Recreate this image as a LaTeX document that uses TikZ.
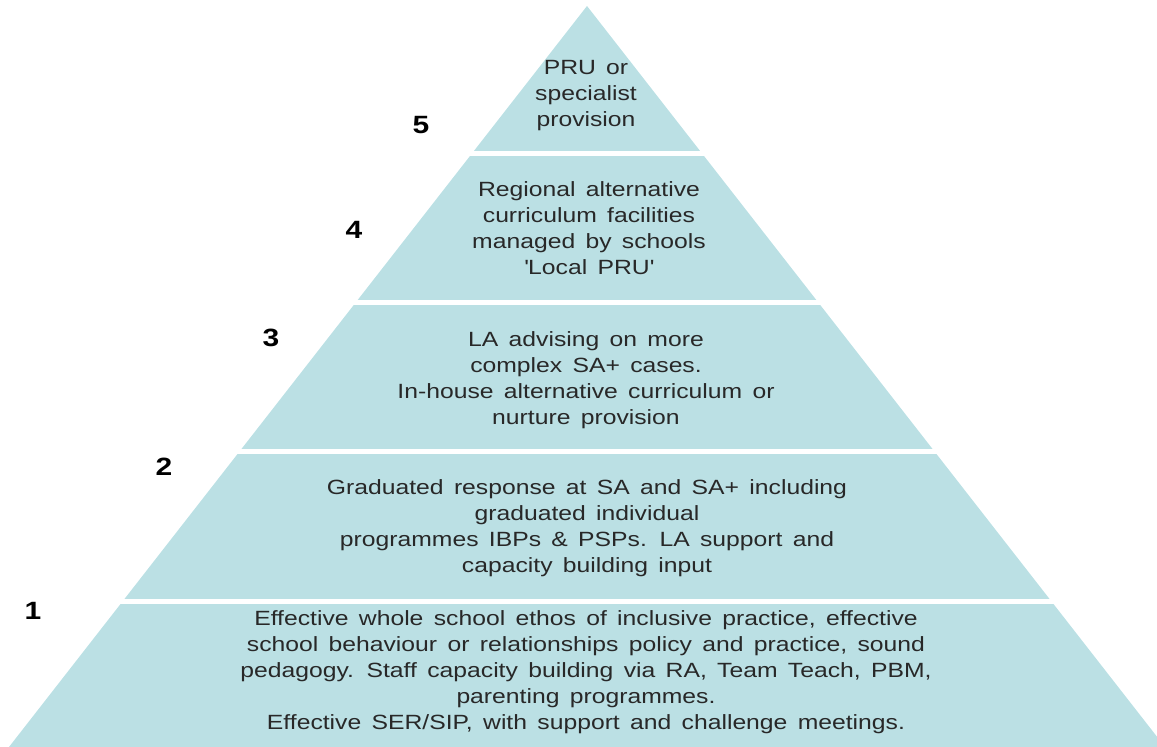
\documentclass[tikz,border=0pt]{standalone}
\usepackage{fontspec}
\setmainfont{Liberation Sans}[FakeStretch=1.2, WordSpace=1.5]
\usetikzlibrary{positioning}
\definecolor{pyrblue}{RGB}{187,224,228}
\definecolor{txtgrey}{RGB}{40,40,40}

\begin{document}
\begin{tikzpicture}[x=0.5pt, y=-0.5pt,
    tier/.style={align=center, text=txtgrey, font=\fontsize{10.3}{13}\selectfont},
    num/.style={text=black, font=\fontsize{12.5}{13}\selectfont\bfseries}]
        \useasboundingbox (0,0) rectangle (1157,747);
        \clip (0,0) rectangle (1157,747);

        % pyramid and the white gaps between tiers
        \fill[pyrblue] (587,6) -- (1165,747) -- (9,747) -- cycle;
        \foreach \y in {153.5,302.5,452,602}
            \draw[white, line width=2.5pt] (0,\y) -- (1157,\y);

        \node[tier] (t5) at (586,96) {PRU or\\specialist\\provision};
        \node[tier] (t4) at (589,228) {Regional alternative\\curriculum facilities\\managed by schools\\\textquotesingle Local PRU\textquotesingle};
        \node[tier] (t3) at (586,380) {LA advising on more\\complex SA+ cases.\\In-house alternative curriculum or\\nurture provision};
        \node[tier] (t2) at (587,528) {Graduated response at SA and SA+ including\\graduated individual\\programmes IBPs \& PSPs. LA support and\\capacity building input};
        \node[tier] (t1) at (586,672) {Effective whole school ethos of inclusive practice, effective\\school behaviour or relationships policy and practice, sound\\pedagogy. Staff capacity building via RA, Team Teach, PBM,\\parenting programmes.\\Effective SER/SIP, with support and challenge meetings.};

        \node[num] (n5) at (421,125) {5};
        \node[num] (n4) at (354,230) {4};
        \node[num] (n3) at (271,338) {3};
        \node[num] (n2) at (164,467) {2};
        \node[num] (n1) at (33,611) {1};
    \end{tikzpicture}
\end{document}
